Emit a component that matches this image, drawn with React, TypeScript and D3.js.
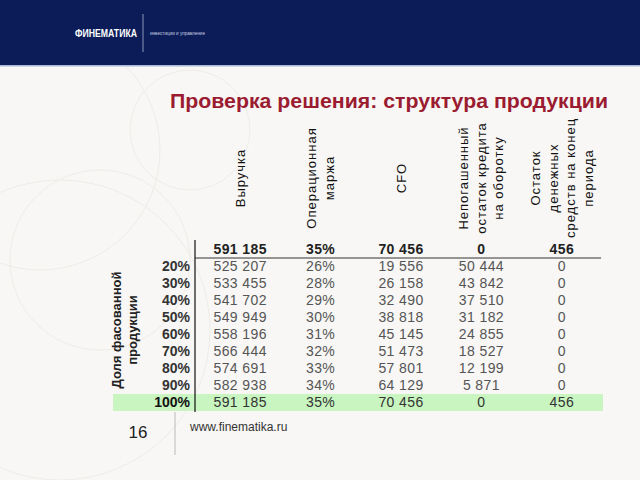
import React from 'react';
import * as d3 from 'd3';

const columnHeaders = [
  ['Выручка'],
  ['Операционная', 'маржа'],
  ['CFO'],
  ['Непогашенный', 'остаток кредита', 'на оборотку'],
  ['Остаток', 'денежных', 'средств на конец', 'периода'],
];
const baseRow = ['591 185', '35%', '70 456', '0', '456'];
const shareLabels = ['20%', '30%', '40%', '50%', '60%', '70%', '80%', '90%', '100%'];
const revenue = ['525 207', '533 455', '541 702', '549 949', '558 196', '566 444', '574 691', '582 938', '591 185'];
const margin = ['26%', '28%', '29%', '30%', '31%', '32%', '33%', '34%', '35%'];
const cfo = ['19 556', '26 158', '32 490', '38 818', '45 145', '51 473', '57 801', '64 129', '70 456'];
const credit = ['50 444', '43 842', '37 510', '31 182', '24 855', '18 527', '12 199', '5 871', '0'];
const cash = ['0', '0', '0', '0', '0', '0', '0', '0', '456'];
const rowLabelTitle = ['Доля фасованной', 'продукции'];

const FONT = '"Liberation Sans", Arial, sans-serif';

export default function App() {
  const width = 640;
  const height = 480;

  const columns = [revenue, margin, cfo, credit, cash];
  const colKeys = columnHeaders.map((_, i) => i);
  const x = d3.scaleBand<number>().domain(colKeys).range([200, 602]);
  const cx = (i: number) => (x(i) ?? 0) + x.bandwidth() / 2;

  const rowKeys = ['base', ...shareLabels];
  const y = d3.scaleBand<string>().domain(rowKeys).range([241, 411]);
  const cy = (k: string) => (y(k) ?? 0) + y.bandwidth() / 2;

  const lastKey = shareLabels[shareLabels.length - 1];

  // faint background rings
  const rings = [
    { x: 40, y: 150, r: 120 },
    { x: 100, y: 260, r: 90 },
    { x: 60, y: 330, r: 150 },
    { x: 190, y: 130, r: 60 },
  ];

  return (
    <svg width={width} height={height} style={{ position: 'absolute', left: 0, top: 0 }} fontFamily={FONT}>
      <rect width={width} height={height} fill="#f8f7f5" />
      {rings.map((c, i) => (
        <circle key={i} cx={c.x} cy={c.y} r={c.r} fill="none" stroke="#efece8" strokeWidth={1} />
      ))}

      {/* header band */}
      <rect width={width} height={65} fill="#0b1c58" />
      <rect y={65} width={width} height={1.5} fill="#a9b9d6" />
      <text x={75} y={37} fill="#ffffff" fontSize={10} fontWeight="bold" textLength={62} lengthAdjust="spacingAndGlyphs">
        ФИНЕМАТИКА
      </text>
      <line x1={143} x2={143} y1={14} y2={52} stroke="#8d97b8" strokeWidth={1} />
      <text x={150} y={35} fill="#c9cfe2" fontSize={4.5} textLength={55} lengthAdjust="spacingAndGlyphs">
        инвестиции и управление
      </text>

      {/* title */}
      <text x={170} y={108} fill="#9b1c31" fontSize={20.5} fontWeight="bold" textLength={438} lengthAdjust="spacingAndGlyphs">
        Проверка решения: структура продукции
      </text>

      {/* rotated column headers */}
      {columnHeaders.map((lines, i) => {
        const n = lines.length;
        const step = 17.5;
        return (
          <g key={i} transform={`translate(${cx(i)},178) rotate(-90)`}>
            {lines.map((l, j) => (
              <text
                key={j}
                x={0}
                y={(j - (n - 1) / 2) * step}
                dy="0.35em"
                textAnchor="middle"
                fontSize={13}
                letterSpacing={1}
                fill="#111"
              >
                {l}
              </text>
            ))}
          </g>
        );
      })}

      {/* highlighted row */}
      <rect
        x={113}
        y={y(lastKey)}
        width={490}
        height={y.bandwidth()}
        fill="#c8f5c0"
      />

      {/* grid lines */}
      <line x1={195} x2={195} y1={240} y2={412} stroke="#111" strokeWidth={1.2} />
      <line x1={195} x2={601} y1={258} y2={258} stroke="#333" strokeWidth={1} />

      {/* base row */}
      {baseRow.map((v, i) => (
        <text key={i} x={cx(i)} y={cy('base')} dy="0.35em" textAnchor="middle" fontSize={14} fontWeight="bold" letterSpacing={0.4} fill="#222">
          {v}
        </text>
      ))}

      {/* row labels */}
      {shareLabels.map((l) => (
        <text key={l} x={190} y={cy(l)} dy="0.35em" textAnchor="end" fontSize={14} fontWeight="bold" fill={l === lastKey ? '#111' : '#333'}>
          {l}
        </text>
      ))}

      {/* data cells */}
      {shareLabels.map((l, r) =>
        columns.map((col, c) => (
          <text
            key={`${l}-${c}`}
            x={cx(c)}
            y={cy(l)}
            dy="0.35em"
            textAnchor="middle"
            fontSize={14}
            letterSpacing={0.4}
            fill={l === lastKey ? '#333' : '#555'}
          >
            {col[r]}
          </text>
        ))
      )}

      {/* row axis title */}
      <g transform="translate(124,330) rotate(-90)">
        {rowLabelTitle.map((l, j) => (
          <text key={j} x={0} y={(j - 0.5) * 16} dy="0.35em" textAnchor="middle" fontSize={13} fontWeight="bold" fill="#222">
            {l}
          </text>
        ))}
      </g>

      {/* footer */}
      <text x={138} y={438} textAnchor="middle" fontSize={17} fill="#222">16</text>
      <line x1={175} x2={175} y1={412} y2={455} stroke="#bbb" strokeWidth={1} />
      <text x={190} y={431} fontSize={12} fill="#333">www.finematika.ru</text>
    </svg>
  );
}
